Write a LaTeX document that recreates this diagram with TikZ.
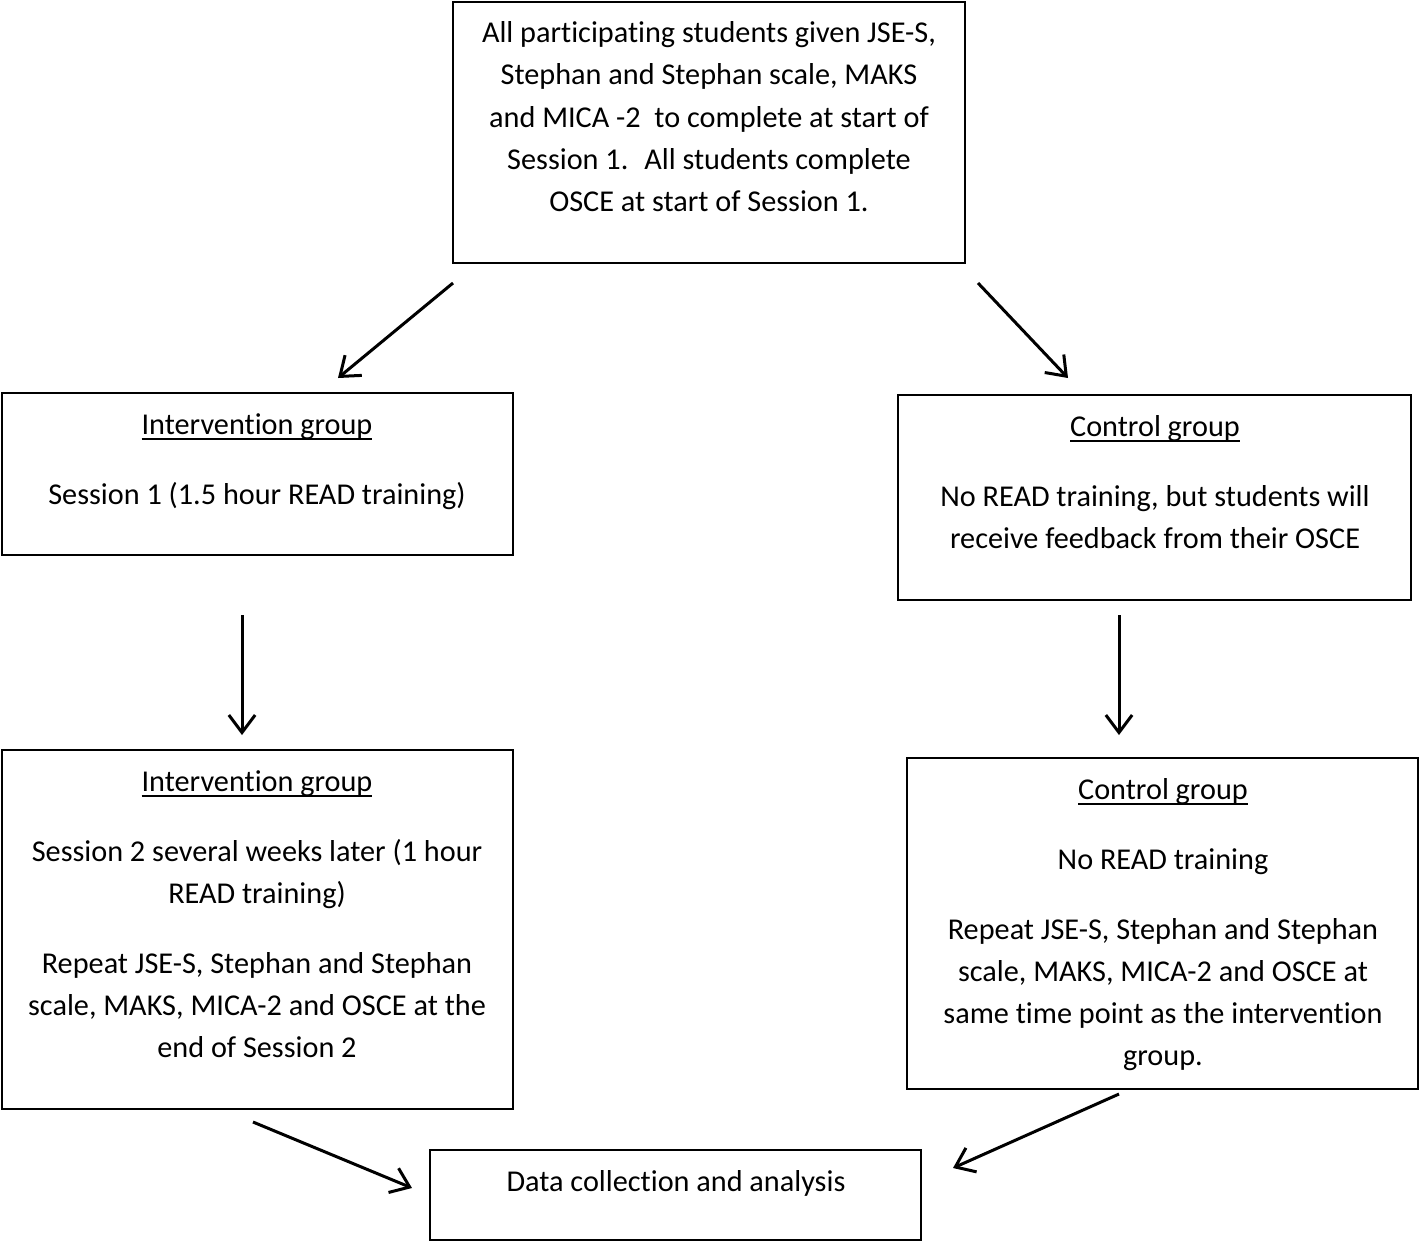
\documentclass[tikz,border=0pt]{standalone}
\usepackage{fontspec}
\setmainfont{Carlito}[RawFeature={-liga}]
\usetikzlibrary{arrows.meta}
\newdimen\px
\px=0.4pt
\newsavebox\headbox
% Word-like underline through the descenders
\newcommand{\hdline}[1]{\sbox\headbox{#1}\rlap{\rule[-2.3pt]{\wd\headbox}{0.9pt}}\usebox\headbox}
\tikzset{
    %Define standard arrow tip
    >={Straight Barb[length=7pt,width=10.5pt,line width=1.2pt]},
    %Define style for boxes
    flowbox/.style={
           rectangle,
           draw=black,
           line width=1pt,
           inner sep=0pt},
    %Define style for the texts in the boxes
    boxtext/.style={
           anchor=north,
           align=center,
           inner sep=0pt,
           font=\fontsize{12.1}{16.9}\selectfont},
    % Define arrow style
    pil/.style={
           ->,
           line width=1.2pt}
}

\begin{document}
\begin{tikzpicture}[x=0.4pt,y=-0.4pt]
\useasboundingbox (0,0) rectangle (1420,1242);

 %boxes
\node[flowbox, minimum width=512\px, minimum height=261\px] (start) at (709,132.5) {};
\node[flowbox, minimum width=511\px, minimum height=162\px] (int1) at (257.5,474) {};
\node[flowbox, minimum width=513\px, minimum height=205\px] (ctrl1) at (1154.5,497.5) {};
\node[flowbox, minimum width=511\px, minimum height=359\px] (int2) at (257.5,929.5) {};
\node[flowbox, minimum width=511\px, minimum height=331\px] (ctrl2) at (1162.5,923.5) {};
\node[flowbox, minimum width=491\px, minimum height=90\px] (data) at (675.5,1195) {};

 %texts
\node[boxtext] (starttext) at (709,21) {All participating students given JSE-S,\\
  Stephan and Stephan scale, MAKS\\
  and MICA -2~ to complete at start of\\
  Session 1.~ All students complete\\
  OSCE at start of Session 1.};
\node[boxtext] (int1text) at (257,413) {\hdline{Intervention group}\\[11pt]
  Session 1 (1.5 hour READ training)};
\node[boxtext] (ctrl1text) at (1155,415) {\hdline{Control group}\\[11pt]
  No READ training, but students will\\
  receive feedback from their OSCE};
\node[boxtext] (int2text) at (257,770) {\hdline{Intervention group}\\[11pt]
  Session 2 several weeks later (1 hour\\
  READ training)\\[11pt]
  Repeat JSE-S, Stephan and Stephan\\
  scale, MAKS, MICA-2 and OSCE at the\\
  end of Session 2};
\node[boxtext] (ctrl2text) at (1163,778) {\hdline{Control group}\\[11pt]
  No READ training\\[11pt]
  Repeat JSE-S, Stephan and Stephan\\
  scale, MAKS, MICA-2 and OSCE at\\
  same time point as the intervention\\
  group.};
\node[boxtext] (datatext) at (676,1170) {Data collection and analysis};

 %arrow ends
\coordinate (a1) at (453,283);
\coordinate (a2) at (338,378);
\coordinate (b1) at (978,283);
\coordinate (b2) at (1068,378);
\coordinate (c1) at (242,615);
\coordinate (c2) at (242,735);
\coordinate (d1) at (1119,615);
\coordinate (d2) at (1119,735);
\coordinate (e1) at (253,1122);
\coordinate (e2) at (412,1188);
\coordinate (f1) at (1119,1094);
\coordinate (f2) at (953,1168);

\draw[pil] (a1) -- (a2);
\draw[pil] (b1) -- (b2);
\draw[pil] (c1) -- (c2);
\draw[pil] (d1) -- (d2);
\draw[pil] (e1) -- (e2);
\draw[pil] (f1) -- (f2);
\end{tikzpicture}
\end{document}
